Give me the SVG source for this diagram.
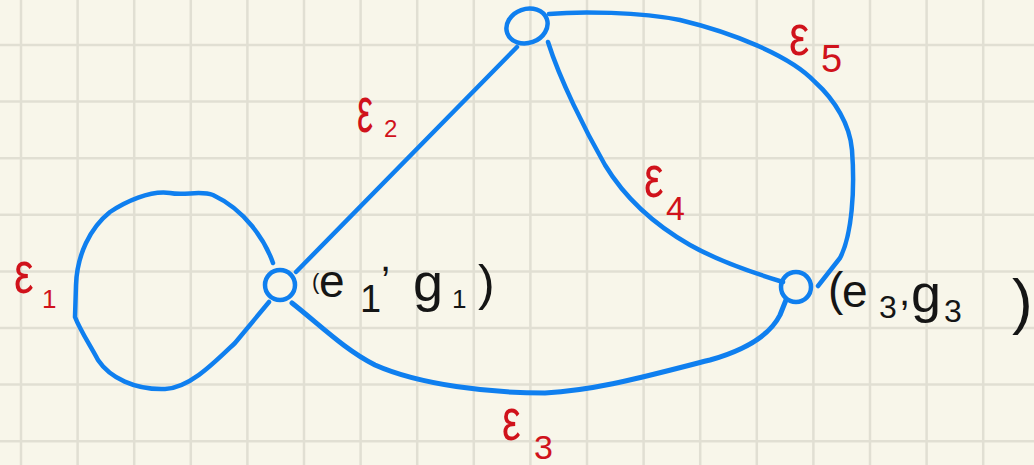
<svg xmlns="http://www.w3.org/2000/svg" width="1034" height="465" viewBox="0 0 1034 465">
<style>
.grid{stroke:#e1dfd3;stroke-width:2.5}
.edge{fill:none;stroke:#0f7fef;stroke-width:4.5;stroke-linecap:round;stroke-linejoin:round}
.node{fill:none;stroke:#0f7fef;stroke-width:4.5}
.lbl{font-family:"Liberation Sans",Arial,sans-serif;fill:#151515}
.red{font-family:"Liberation Sans",Arial,sans-serif;fill:#d0121b}
</style>
<rect width="1034" height="465" fill="#f8f6ea"/>
<g id="grid">
<path class="grid" d="M21,0V465M77.6,0V465M134.2,0V465M190.8,0V465M247.4,0V465M304,0V465M360.6,0V465M417.2,0V465M473.8,0V465M530.4,0V465M587,0V465M643.6,0V465M700.2,0V465M756.8,0V465M813.4,0V465M870,0V465M926.6,0V465M983.2,0V465"/>
<path class="grid" d="M0,45H1034M0,101.6H1034M0,158.2H1034M0,214.8H1034M0,271.4H1034M0,328H1034M0,384.6H1034M0,441.2H1034"/>
</g>
<g id="connectors">
<path id="e1" class="edge" d="M273,263 C265,240 245,210 213,195 C200,190 185,196 170,193 C150,190 125,202 110,212 C90,228 77,255 76,285 L75,317 C80,330 90,345 98,360 C110,378 135,390 165,389 C190,388 215,362 235,343 L269,302"/>
<path id="e2" class="edge" d="M296,272 L517,47"/>
<path id="e3" class="edge" style="stroke-width:5" d="M292,303 C320,325 345,350 375,365 C420,385 490,393 545,393 C600,390 650,375 710,360 C745,350 770,335 780,315 L786,300"/>
<path id="e4" class="edge" d="M548,42 C560,80 585,130 605,165 C625,198 655,225 690,245 C720,262 760,275 783,282"/>
<path id="e5" class="edge" d="M549,14 C580,11 640,12 680,20 C730,32 790,55 815,82 C835,100 850,125 852,150 C855,190 852,235 840,258 L818,286"/>
</g>
<g id="n1">
<circle class="node" cx="280" cy="285" r="15"/>
<text class="lbl" x="312" y="289" font-size="22">(</text>
<text class="lbl" x="319" y="297" font-size="46">e</text>
<text class="lbl" x="360" y="312" font-size="38">1</text>
<text class="lbl" x="380" y="271" font-size="40">,</text>
<text class="lbl" x="413" y="301" font-size="54">g</text>
<text class="lbl" x="452" y="308" font-size="26">1</text>
<text class="lbl" x="478" y="300" font-size="50">)</text>
</g>
<g id="n2">
<ellipse class="node" cx="527" cy="26" rx="21" ry="17" transform="rotate(-20 527 26)"/>
</g>
<g id="n3">
<circle class="node" cx="796" cy="287" r="15"/>
<text class="lbl" x="828" y="305" font-size="46">(</text>
<text class="lbl" x="842" y="307" font-size="46">e</text>
<text class="lbl" x="879" y="318" font-size="32">3</text>
<text class="lbl" x="899" y="305" font-size="40">,</text>
<text class="lbl" x="911" y="312" font-size="54">g</text>
<text class="lbl" x="944" y="322" font-size="32">3</text>
<text class="lbl" x="1012" y="322" font-size="62">)</text>
</g>
<g id="labels">
<text class="red" font-size="40" transform="translate(14,293) scale(1.1,1.5)">ε</text>
<text class="red" font-size="26" x="42" y="308">1</text>
<text class="red" font-size="40" transform="translate(357,132) scale(0.9,1.6)">ε</text>
<text class="red" font-size="24" x="384" y="137">2</text>
<text class="red" font-size="40" transform="translate(502,440) scale(1.05,1.5)">ε</text>
<text class="red" font-size="34" x="534" y="459">3</text>
<text class="red" font-size="40" transform="translate(644,197) scale(1.1,1.5)">ε</text>
<text class="red" font-size="34" x="666" y="220">4</text>
<text class="red" font-size="38" transform="translate(789,55) scale(1.2,1.5)">ε</text>
<text class="red" font-size="38" x="821" y="72">5</text>
</g>
</svg>
